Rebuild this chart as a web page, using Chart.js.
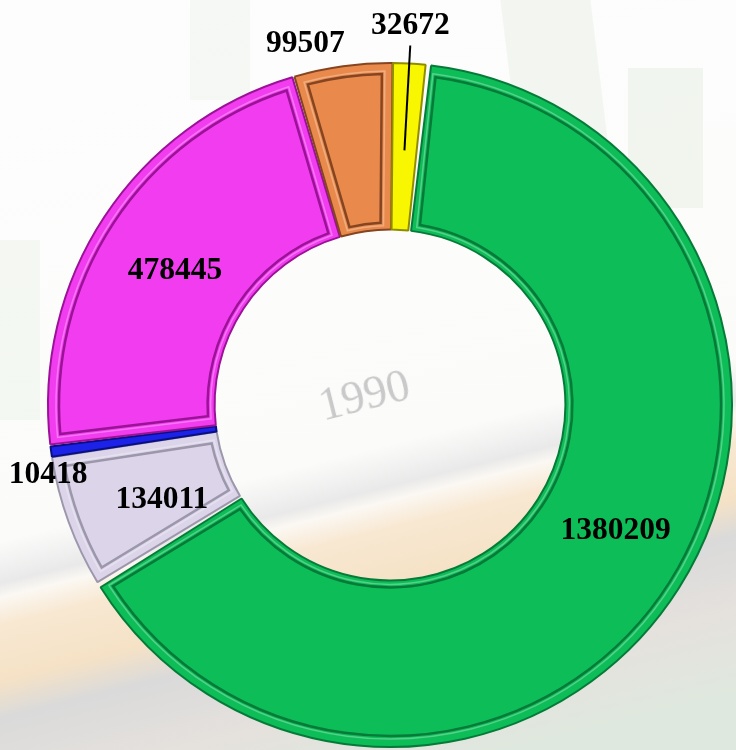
<!DOCTYPE html>
<html>
<head>
<meta charset="utf-8">
<script src="https://cdn.jsdelivr.net/npm/chart.js@4"></script>
<style>
html, body { margin: 0; padding: 0; }
body {
    width: 736px; height: 750px; overflow: hidden; position: relative;
    background: linear-gradient(166deg, #fdfdfd 0%, #fbfcfa 58%, #e9e9e9 62.5%, #fbf8f3 64%, #f8e8d2 67%, #f5e2c6 73%, #dadada 77%, #e5e1dd 85%, #dfe8de 94%);
}
.patch { position: absolute; background: #e6ede2; }
#yr {
    position: absolute; left: 318px; top: 368px;
    font: 46px "Liberation Serif", serif; color: #c9c9c9;
    transform: rotate(-14deg); filter: blur(0.7px);
}
canvas { position: absolute; left: 0; top: 0; }
</style>
</head>
<body>
<div class="patch" style="left:520px;top:0;width:90px;height:320px;transform:skewX(7deg);opacity:.45"></div>
<div class="patch" style="left:628px;top:68px;width:75px;height:140px;opacity:.5"></div>
<div class="patch" style="left:190px;top:0;width:60px;height:100px;opacity:.35"></div>
<div class="patch" style="left:0;top:240px;width:40px;height:180px;opacity:.35"></div>
<div id="yr">1990</div>
<canvas id="donut" width="736" height="750"></canvas>
<script>
const categories = ['Green', 'Lavender', 'Blue', 'Magenta', 'Orange', 'Yellow'];
const values = [1380209, 134011, 10418, 478445, 99507, 32672];
const fillColors = ['#0dbd58', '#dcd5ea', '#1c22e8', '#f23cf0', '#e98a4c', '#f8f600'];
const edgeColors = ['#067a38', '#9d97ab', '#0a0f80', '#9a1296', '#854521', '#8f8c00'];

// small slices get their number outside the ring, the others a small nudge
const outside = {
    2: { dx: -5, dy: 24 },
    4: { dx: -38, dy: -24 },
    5: { dx: 1, dy: -40, leader: true }
};
const nudge = { 0: [7, -13], 1: [15, 6], 3: [1, 8] };

const bevelPlugin = {
    id: 'bevel',
    afterDatasetsDraw(chart) {
        const ctx = chart.ctx;
        const meta = chart.getDatasetMeta(0);
        ctx.save();
        meta.data.forEach((arc, i) => {
            const p = arc.getProps(['x', 'y', 'startAngle', 'endAngle', 'innerRadius', 'outerRadius'], true);
            if (p.endAngle - p.startAngle < 0.2) return;
            [[6, 'rgba(255,255,255,0.3)', 1.5], [9, edgeColors[i], 2.5]].forEach(([d, col, w]) => {
                const ro = p.outerRadius - d, ri = p.innerRadius + d;
                const ao = (d + 2) / ro, ai = (d + 2) / ri;
                ctx.beginPath();
                ctx.arc(p.x, p.y, ro, p.startAngle + ao, p.endAngle - ao);
                ctx.arc(p.x, p.y, ri, p.endAngle - ai, p.startAngle + ai, true);
                ctx.closePath();
                ctx.strokeStyle = col;
                ctx.lineWidth = w;
                ctx.stroke();
            });
        });
        ctx.restore();
    }
};

const labelPlugin = {
    id: 'valueLabels',
    afterDraw(chart) {
        const ctx = chart.ctx;
        const meta = chart.getDatasetMeta(0);
        ctx.save();
        ctx.font = 'bold 31.5px "Liberation Serif", "Times New Roman", serif';
        ctx.fillStyle = '#000';
        ctx.textAlign = 'center';
        ctx.textBaseline = 'middle';
        meta.data.forEach((arc, i) => {
            const txt = String(values[i]);
            const p = arc.getProps(['x', 'y', 'startAngle', 'endAngle', 'innerRadius', 'outerRadius'], true);
            const mid = (p.startAngle + p.endAngle) / 2;
            const o = outside[i];
            if (!o) {
                const c = arc.tooltipPosition();
                const n = nudge[i] || [0, 0];
                ctx.fillText(txt, c.x + n[0], c.y + n[1]);
                return;
            }
            const ox = p.x + Math.cos(mid) * p.outerRadius;
            const oy = p.y + Math.sin(mid) * p.outerRadius;
            const tx = ox + o.dx, ty = oy + o.dy;
            ctx.fillText(txt, tx, ty);
            if (o.leader) {
                const r = p.outerRadius - 85;
                ctx.beginPath();
                ctx.moveTo(tx, ty + 20);
                ctx.lineTo(p.x + Math.cos(mid) * r, p.y + Math.sin(mid) * r);
                ctx.strokeStyle = '#000';
                ctx.lineWidth = 2;
                ctx.stroke();
            }
        });
        ctx.restore();
    }
};

new Chart(document.getElementById('donut'), {
    type: 'doughnut',
    data: {
        labels: categories,
        datasets: [{
            data: values,
            backgroundColor: fillColors,
            borderColor: edgeColors,
            borderWidth: 2,
            spacing: 4
        }]
    },
    options: {
        responsive: false,
        animation: false,
        rotation: 6,
        cutout: '51%',
        layout: { padding: { left: 47, right: 3, top: 62, bottom: 2 } },
        plugins: { legend: { display: false }, tooltip: { enabled: false } }
    },
    plugins: [bevelPlugin, labelPlugin]
});
</script>
</body>
</html>
